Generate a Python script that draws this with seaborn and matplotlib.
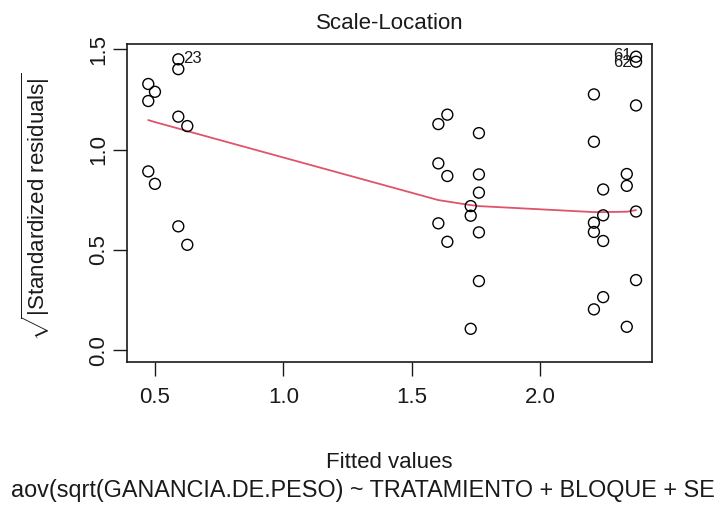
import matplotlib
matplotlib.use("Agg")
import matplotlib.pyplot as plt
import numpy as np
import pandas as pd
import seaborn as sns

# Fitted values and sqrt(|standardized residuals|) of the model
fitted = [0.474, 0.474, 0.474,
          0.500, 0.500,
          0.591, 0.591, 0.591, 0.591,
          0.626, 0.626,
          1.604, 1.604, 1.604,
          1.639, 1.639, 1.639,
          1.730, 1.730, 1.730,
          1.762, 1.762, 1.762, 1.762, 1.762,
          2.210, 2.210, 2.210, 2.210, 2.210,
          2.246, 2.246, 2.246, 2.246,
          2.338, 2.338, 2.338,
          2.374, 2.374, 2.374, 2.374, 2.374]
sqrt_abs_resid = [1.327, 1.242, 0.891,
                  1.288, 0.829,
                  1.450, 1.401, 1.164, 0.617,
                  1.117, 0.525,
                  1.127, 0.931, 0.632,
                  1.174, 0.868, 0.540,
                  0.718, 0.670, 0.106,
                  1.082, 0.876, 0.785, 0.587, 0.344,
                  1.275, 1.039, 0.635, 0.589, 0.203,
                  0.801, 0.672, 0.544, 0.264,
                  0.878, 0.819, 0.116,
                  1.463, 1.438, 1.220, 0.691, 0.349]

# Lowess smoother evaluated at the distinct fitted values
smooth_x = [0.474, 0.500, 0.591, 0.626, 1.604, 1.639, 1.730, 1.762,
            2.210, 2.246, 2.338, 2.374]
smooth_y = [1.147, 1.137, 1.105, 1.092, 0.748, 0.741, 0.723, 0.718,
            0.688, 0.688, 0.690, 0.698]

# Observations flagged with their index
id_labels = ["23", "61", "62"]
id_x = [0.591, 2.374, 2.374]
id_y = [1.450, 1.463, 1.438]

x_ticks = [0.5, 1.0, 1.5, 2.0]
y_ticks = [0.0, 0.5, 1.0, 1.5]

title = "Scale-Location"
x_label = "Fitted values"
subtitle = "aov(sqrt(GANANCIA.DE.PESO) ~ TRATAMIENTO + BLOQUE + SE"
y_label = r"$\sqrt{|\mathrm{Standardized\ residuals}|}$"

sns.set_style("white")
plt.rcParams["font.family"] = ["Liberation Sans", "DejaVu Sans"]
plt.rcParams["mathtext.fontset"] = "custom"
plt.rcParams["mathtext.rm"] = "Liberation Sans"
plt.rcParams["mathtext.it"] = "Liberation Sans:italic"
plt.rcParams["mathtext.bf"] = "Liberation Sans:bold"

FS = 16
INK = "#1a1a1a"

points = pd.DataFrame({"fitted": fitted, "resid": sqrt_abs_resid})
smooth = pd.DataFrame({"x": smooth_x, "y": smooth_y})

fig = plt.figure(figsize=(7.17, 5.09), dpi=100)
ax = fig.add_axes([0.1778, 0.2894, 0.7311, 0.6236])

sns.scatterplot(data=points, x="fitted", y="resid", ax=ax, marker="o",
                s=62, facecolor="none", edgecolor="black", linewidth=1.0,
                legend=False, zorder=3)
sns.lineplot(data=smooth, x="x", y="y", ax=ax, color="#DF536B",
             linewidth=1.3, sort=False, estimator=None, legend=False,
             zorder=2)

ID_FS = FS * 0.75
ax.text(id_x[0] + 0.018, id_y[0] + 0.005, id_labels[0], fontsize=ID_FS,
        ha="left", va="center", color=INK)
ax.text(id_x[1] - 0.018, id_y[1] + 0.005, id_labels[1], fontsize=ID_FS,
        ha="right", va="center", color=INK)
ax.text(id_x[2] - 0.018, id_y[2] - 0.005, id_labels[2], fontsize=ID_FS,
        ha="right", va="center", color=INK)

ax.set_xlim(0.393, 2.435)
ax.set_ylim(-0.058, 1.525)
ax.set_xticks(x_ticks)
ax.set_yticks(y_ticks)
ax.set_xticklabels([f"{v:.1f}" for v in x_ticks])
ax.set_yticklabels([f"{v:.1f}" for v in y_ticks], rotation=90, va="center")
ax.tick_params(axis="both", which="major", direction="out", length=10,
               width=1.0, color=INK, labelsize=FS, labelcolor=INK,
               bottom=True, left=True, top=False, right=False)
ax.tick_params(axis="x", pad=8)
ax.tick_params(axis="y", pad=11)
for lab in ax.get_yticklabels():
    lab.set_ha("center")
for side in ["left", "right", "top", "bottom"]:
    ax.spines[side].set_visible(True)
    ax.spines[side].set_color(INK)
    ax.spines[side].set_linewidth(1.2)
ax.set_xlabel("")
ax.set_ylabel("")

fig.text(0.5433, 0.953, title, fontsize=FS, ha="center", va="center",
         color=INK)
fig.text(0.5433, 0.092, x_label, fontsize=FS, ha="center", va="center",
         color=INK)
fig.text(0.506, 0.036, subtitle, fontsize=16.8, ha="center", va="center",
         color=INK)
fig.text(0.050, 0.593, y_label, fontsize=FS, ha="center", va="center",
         rotation=90, color=INK)

fig.savefig("out.png", dpi=100)
